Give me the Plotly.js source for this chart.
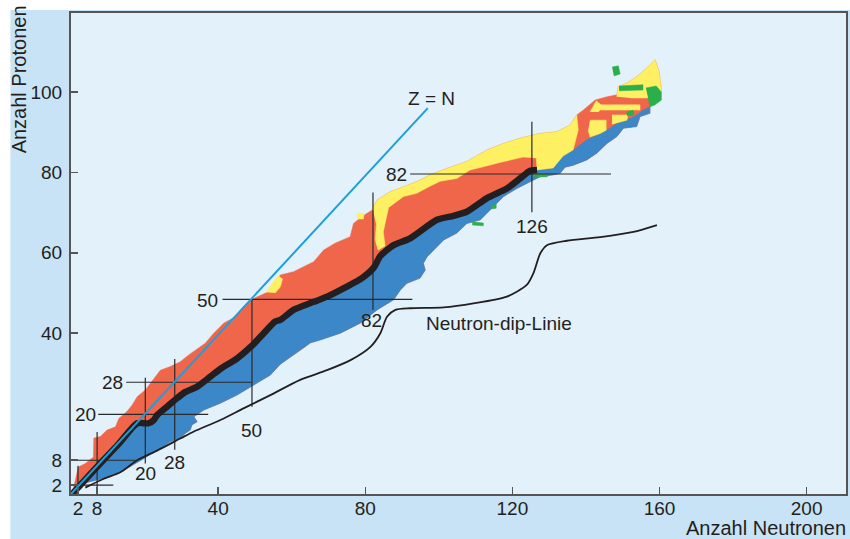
<!DOCTYPE html>
<html><head><meta charset="utf-8">
<script src="https://cdn.plot.ly/plotly-3.0.1.min.js"></script>
<style>html,body{margin:0;padding:0;background:#fff}#chart{width:850px;height:539px}</style>
</head><body><div id="chart"></div>
<script>
// ---- data (N = neutrons, Z = protons) ----
const upperN = [0.3,1.2,2.0,3.9,6.1,6.2,8.0,9.8,12.1,13.0,15.2,16.6,18.0,20.2,22.9,24.3,27.0,29.7,32.0,33.8,36.5,38.8,41.5,44.7,46.5,48.8,53.7,56.9,60.5,63.2,66.0,68.7,71.8,75.9,76.8,79.1,81.8,83.2,86.8,90.4,94.0,97.7,102.2,107.6,113.1,117.6,122.1,127.5,132.1,135.7,137.5,139.3,142.5,145.7,148.4,148.8,151.1,153.8,156.5,158.8,159.9,160.5,160.2];
const upperZ = [0,3.5,6.7,7.6,9.2,13.9,14.3,15.9,16.7,18.8,20.5,22.1,24.2,25.9,29.2,30.8,31.7,32.9,34.6,35.8,37.5,40.0,42.5,44.1,46.2,48.3,50.3,54.5,55.3,56.5,57.8,60.7,62.4,64.0,67.3,69.0,70.6,73.1,75.2,76.4,77.7,79.4,81.0,82.7,85.6,87.2,88.5,89.7,90.1,91.8,94.3,95.5,98.0,98.8,99.3,101.3,102.2,103.8,105.9,108.0,105.0,100.5,98.8];
const lowerN = [0.3,1.7,5.3,8.9,13.4,16.1,19.3,23.4,27.0,29.7,31.1,32.4,32.9,34.3,33.4,36.1,40.6,45.1,49.6,54.2,56.9,63.2,65.1,67.8,73.2,78.6,83.2,87.7,89.5,91.3,94.9,96.3,95.8,96.8,99.5,101.3,104.9,107.6,111.3,114.9,117.6,121.2,124.8,127.5,131.2,133.0,134.3,136.6,140.2,143.0,145.7,148.4,150.2,153.8,154.7,157.4,157.4];
const lowerZ = [0,2.2,3.1,3.9,5.5,6.8,8.5,10.9,13.0,13.9,15.1,15.9,17.2,18.0,19.2,20.9,22.6,24.6,27.1,29.6,32.3,36.3,37.6,38.3,40.0,42.5,45.8,48.3,50.7,52.4,53.7,55.7,57.4,59.0,61.5,63.2,64.9,67.3,68.2,71.5,74.0,76.0,77.7,78.9,79.4,79.8,81.3,81.8,83.1,84.8,87.2,88.9,91.0,91.4,93.9,94.7,96.3];
const blueTopN = [155.6,153.8,151.1,148.4,146.6,143.9,140.2,136.6,133.9,131.1];
const blueTopZ = [95.5,94.3,93.0,92.2,91.0,89.7,88.1,85.6,84.3,81.1];
const stableN = [0.3,7.1,12.9,18.0,21.1,22.5,23.4,26.1,28.8,31.1,34.3,37.9,40.6,45.1,49.2,52.4,55.5,56.9,60.5,66.0,69.6,75.0,79.1,82.3,84.1,87.7,92.2,99.5,104.0,107.6,113.1,118.5,122.1,124.8,126.7];
const stableZ = [0,6.8,12.4,17.6,17.6,18.4,19.6,21.7,23.8,25.4,26.7,29.2,31.1,33.7,36.9,40.0,42.9,43.3,45.8,47.8,49.1,51.6,53.7,56.3,59.2,61.9,63.6,68.2,69.2,70.2,73.6,76.0,78.5,80.4,80.6];
const dripN = [3.9,8.9,13.4,18.0,23.4,29.7,33.3,40.6,46.9,54.2,62.3,69.6,76.0,81.4,84.1,85.9,88.2,92.2,101.3,109.4,118.5,123.9,125.7,127.6,129.4,134.8,143.9,152.9,159.3];
const dripZ = [1.6,3.8,5.4,8.4,10.8,13.8,15.5,18.4,21.3,24.6,28.4,30.8,33.3,36.6,40.0,44.1,45.8,46.2,46.4,47.4,49.1,52.0,54.9,59.9,61.9,63.0,63.9,65.2,66.9];
const zEqualsN_N = [0, 97];
const zEqualsN_Z = [0, 96];

// yellow (alpha) patches
const yStripN = [81.8,83.2,86.8,90.4,94.0,97.7,102.2,107.6,113.1,117.6,122.1,127.5,132.1,135.7,137.5,137.9,136.5,133.8,131.1,126.7,126.5,122.9,119.4,115.8,112.1,108.5,104.9,100.4,97.7,94.0,90.4,86.3,84.1];
const yStripZ = [70.6,73.1,75.2,76.4,77.7,79.4,81.0,82.7,85.6,87.2,88.5,89.7,90.1,91.8,94.3,90.5,85.6,84.1,81.1,80.6,83.6,83.8,83.1,82.3,81.4,80.6,78.5,77.8,76.6,74.8,74.0,71.1,69.7];
const yColN = [82.2,84.1,86.3,85.7,84.9,85.4,83.5,82.7,83.0];
const yColZ = [70.1,71.9,71.1,68.2,65.2,61.7,60.7,63.2,66.9];
const yBit1N = [53.1,54.7,56.4,57.5,56.9,55.5];
const yBit1Z = [50.2,52.5,54.2,53.5,51.5,50.0];
const yBit2N = [77.6,79.7,79.5,77.8];
const yBit2Z = [69.7,69.9,68.4,68.4];
const yTopN = [148.4,148.4,148.8,151.1,153.8,156.5,158.8,159.9,160.5,160.2,156.2,152.0];
const yTopZ = [98.8,99.3,101.3,102.2,103.8,105.9,108.0,105.0,100.5,98.8,98.5,98.5];
const yMidN = [141.1,142.8,144.1,154.7,154.7,143.9,143.3];
const yMidZ = [95.0,97.8,96.8,96.8,95.5,95.5,95.0];
const yLow1N = [141.1,145.5,145.5,143.9,141.1,140.6];
const yLow1Z = [93.0,93.0,90.5,89.7,88.8,90.5];
const yLow2N = [147.1,151.5,151.1,148.4,147.1];
const yLow2Z = [94.3,94.3,93.0,92.2,92.0];

// green (spontaneous fission) patches
const g1N = [156.3,159.1,160.5,160.5,158.8,157.4,156.9], g1Z = [101.0,101.5,100.0,98.0,96.8,96.3,98.5];
const g2N = [147.1,148.8,149.3,147.6], g2Z = [106.2,106.5,104.5,104.0];
const g3N = [151.0,152.8,153.1,151.2], g3Z = [95.0,95.5,94.3,94.0];
const g4N = [125.7,129.5,129.5,125.7], g4Z = [79.6,79.6,78.9,78.9];
const g5N = [109.1,112.1,112.1,109.1], g5Z = [67.7,67.4,66.7,66.9];
const g6N = [114.3,115.6,115.6,114.3], g6Z = [71.9,72.1,71.1,70.9];
const g7N = [149.0,155.5,155.5,149.0], g7Z = [101.5,101.8,100.5,100.3];

// magic-number lines
const hLineZ  = [2.2, 8.4, 19.8, 27.8, 48.4, 79.6];
const hLineN0 = [0, 0, 7.4, 15.0, 41.2, 92.2];
const hLineN1 = [11.5, 17.5, 37.3, 49.2, 92.8, 146.8];
const vLineN  = [1.9, 7.1, 20.2, 28.2, 49.2, 82.1, 125.3];
const vLineZ0 = [0, 0, 7.6, 11.0, 21.7, 45.8, 70.1];
const vLineZ1 = [7.0, 15.4, 28.9, 33.6, 48.4, 75.0, 92.6];
const hLabelText = ['20','28','50','82'];
const hLabelN = [3.9, 11.2, 37.0, 88.6];
const hLabelZ = [19.9, 27.7, 48.1, 79.6];
const vLabelText = ['20','28','50','82','126'];
const vLabelN = [20.2, 28.2, 49.0, 81.8, 125.3];
const vLabelZ = [5.0, 7.8, 15.8, 43.2, 66.5];

// axis ticks
const xTickVals = [1.9, 7.1, 40, 80, 120, 160, 200];
const xTickText = ['2','8','40','80','120','160','200'];
const yTickVals = [2.2, 8.4, 40, 60, 80, 100];
const yTickText = ['2','8','40','60','80','100'];

// ---- build ----
function joinPolys(list){
  const x=[], y=[];
  list.forEach((p,i)=>{ if(i){x.push(null);y.push(null);} x.push(...p[0]); y.push(...p[1]); });
  return {x, y};
}
const FONT = 'Liberation Sans, Arial, Helvetica, sans-serif';
const TXT = '#231f20';
const RED = '#f0664a', BLUE = '#3b87c8', YEL = '#fdf063', GRN = '#2cae4a';

const red = { x: upperN.concat(lowerN.slice().reverse()), y: upperZ.concat(lowerZ.slice().reverse()),
  type:'scatter', mode:'lines', fill:'toself', fillcolor:RED, line:{width:0.5,color:RED}, hoverinfo:'skip' };
const blue = { x: lowerN.concat(blueTopN, stableN.slice().reverse()), y: lowerZ.concat(blueTopZ, stableZ.slice().reverse()),
  type:'scatter', mode:'lines', fill:'toself', fillcolor:BLUE, line:{width:0.5,color:BLUE}, hoverinfo:'skip' };
const yp = joinPolys([[yStripN,yStripZ],[yColN,yColZ],[yBit1N,yBit1Z],[yBit2N,yBit2Z],[yTopN,yTopZ],[yMidN,yMidZ],[yLow1N,yLow1Z],[yLow2N,yLow2Z]]);
const yellow = { x: yp.x, y: yp.y, type:'scatter', mode:'lines', fill:'toself', fillcolor:YEL, line:{width:0.5,color:YEL}, hoverinfo:'skip' };
const gp = joinPolys([[g1N,g1Z],[g2N,g2Z],[g3N,g3Z],[g4N,g4Z],[g5N,g5Z],[g6N,g6Z],[g7N,g7Z]]);
const green = { x: gp.x, y: gp.y, type:'scatter', mode:'lines', fill:'toself', fillcolor:GRN, line:{width:0.5,color:GRN}, hoverinfo:'skip' };

const mx=[], my=[];
hLineZ.forEach((z,i)=>{ mx.push(hLineN0[i],hLineN1[i],null); my.push(z,z,null); });
vLineN.forEach((n,i)=>{ mx.push(n,n,null); my.push(vLineZ0[i],vLineZ1[i],null); });
const magic = { x:mx, y:my, type:'scatter', mode:'lines', line:{width:1.2,color:'#2a2a2a'}, hoverinfo:'skip' };

const stable = { x:stableN, y:stableZ, type:'scatter', mode:'lines', line:{width:6.5,color:TXT,shape:'spline',smoothing:0.6}, hoverinfo:'skip' };
const zn = { x:zEqualsN_N, y:zEqualsN_Z, type:'scatter', mode:'lines', line:{width:2,color:'#1c9fdc'}, hoverinfo:'skip' };
const drip = { x:dripN, y:dripZ, type:'scatter', mode:'lines', line:{width:1.8,color:TXT,shape:'spline',smoothing:0.7}, hoverinfo:'skip' };

const ann = [];
const lf = {family:FONT, size:19, color:TXT};
hLabelText.forEach((t,i)=>ann.push({x:hLabelN[i], y:hLabelZ[i], text:t, showarrow:false, font:lf, xanchor:'center', yanchor:'middle'}));
vLabelText.forEach((t,i)=>ann.push({x:vLabelN[i], y:vLabelZ[i], text:t, showarrow:false, font:lf, xanchor:'center', yanchor:'middle'}));
ann.push({x:97.9, y:98.5, text:'Z = N', showarrow:false, font:lf, xanchor:'center', yanchor:'middle'});
ann.push({x:116.3, y:42.3, text:'Neutron-dip-Linie', showarrow:false, font:lf, xanchor:'center', yanchor:'middle'});
ann.push({xref:'paper', yref:'paper', x:1.0026, y:-0.0707, text:'Anzahl Neutronen', showarrow:false, font:{family:FONT,size:20,color:TXT}, xanchor:'right', yanchor:'middle'});
ann.push({xref:'paper', yref:'paper', x:-0.0678, y:1.021, text:'Anzahl Protonen', textangle:-90, showarrow:false, font:{family:FONT,size:20,color:TXT}, xanchor:'center', yanchor:'top'});

const axisCommon = { ticks:'inside', ticklen:7, tickwidth:1.5, tickcolor:'#555', showline:true, linecolor:'#555', linewidth:2,
  mirror:true, showgrid:false, zeroline:false, fixedrange:true, tickfont:{family:FONT,size:19,color:TXT} };

const layout = {
  width:850, height:539, margin:{l:71,r:4,t:13,b:45},
  paper_bgcolor:'#ffffff', plot_bgcolor:'rgba(0,0,0,0)', showlegend:false,
  xaxis: Object.assign({range:[0,210.7], tickmode:'array', tickvals:xTickVals, ticktext:xTickText, ticklabelstandoff:-4}, axisCommon),
  yaxis: Object.assign({range:[0,119.65], tickmode:'array', tickvals:yTickVals, ticktext:yTickText, ticklabelstandoff:3}, axisCommon),
  shapes:[
    {type:'rect', xref:'paper', yref:'paper', x0:-0.0782, x1:1.0052, y0:-0.0936, y1:1.0062, fillcolor:'#c8e3f5', line:{width:0}, layer:'below'},
    {type:'rect', xref:'paper', yref:'paper', x0:0, x1:1, y0:0, y1:1, fillcolor:'#e3f1fa', line:{width:0}, layer:'below'}
  ],
  annotations: ann
};

Plotly.newPlot('chart', [red, blue, yellow, green, magic, stable, zn, drip], layout, {displayModeBar:false, staticPlot:true});
</script>
</body></html>
